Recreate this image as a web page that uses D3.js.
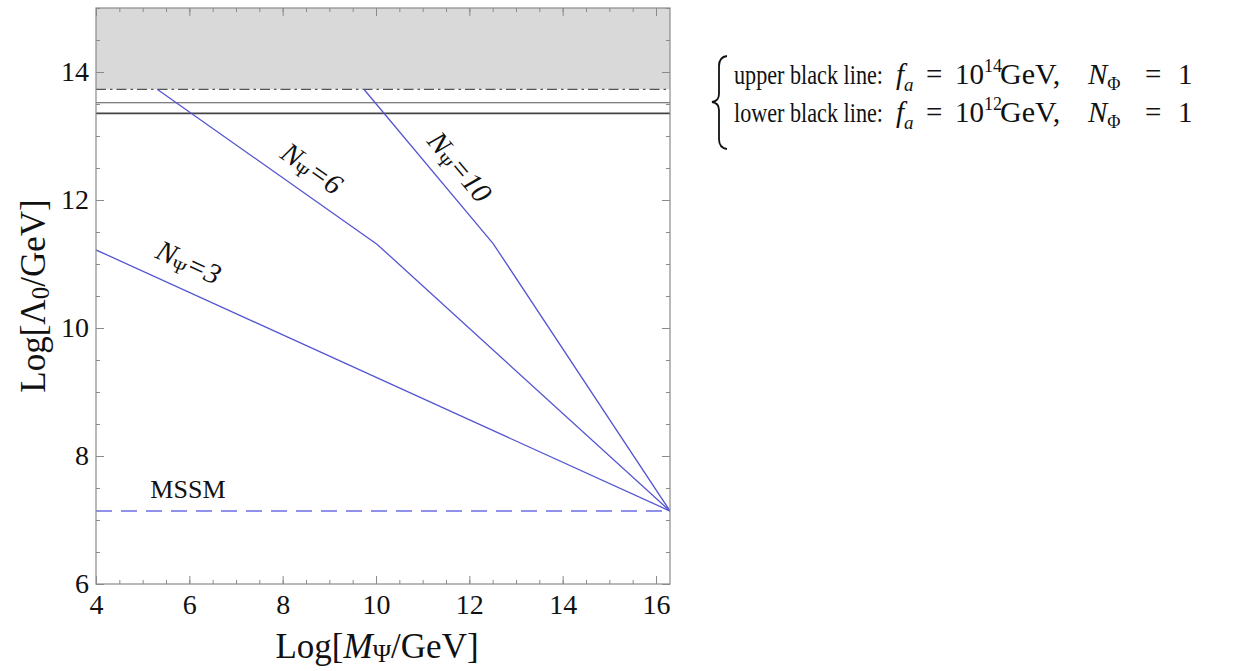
<!DOCTYPE html>
<html>
<head>
<meta charset="utf-8">
<script src="https://cdn.jsdelivr.net/npm/d3@7"></script>
<style>
  html, body { margin: 0; padding: 0; background: #fff; }
  svg { display: block; font-family: "Liberation Serif", "Times New Roman", serif; }
  svg text { font-family: "Liberation Serif", "Times New Roman", serif; }
</style>
</head>
<body>
<svg id="chart" width="1241" height="671"></svg>
<script>
// ---------- data ----------
const xDomain = [4, 16.3];
const yDomain = [6, 15];
const xMajorTicks = [4, 6, 8, 10, 12, 14, 16];
const yMajorTicks = [6, 8, 10, 12, 14];
const xMinorTicks = d3.range(4, 16.3, 0.5);
const yMinorTicks = d3.range(6, 15.01, 0.5);

const excludedBand = [13.73, 15];       // gray shaded region (lower, upper)
const upperBlackLine = 13.52;            // f_a = 1e14 GeV
const lowerBlackLine = 13.355;           // f_a = 1e12 GeV
const mssmLevel = 7.14;

const seriesN3  = [[4, 11.22], [16.3, 7.14]];
const seriesN6  = [[5.31, 13.73], [10.02, 11.31], [16.3, 7.14]];
const seriesN10 = [[9.74, 13.73], [12.51, 11.32], [16.3, 7.14]];

const seriesNames = ["3", "6", "10"];
const labelAnchors = [[5.99, 11.03], [8.63, 12.5], [11.8, 12.52]];  // data coords of label centres
const mssmLabelAnchor = [5.97, 7.34];

// ---------- layout ----------
const svg = d3.select("#chart");
const mLeft = 96, mTop = 8, plotW = 574, plotH = 576;
const x = d3.scaleLinear().domain(xDomain).range([mLeft, mLeft + plotW]);
const y = d3.scaleLinear().domain(yDomain).range([mTop + plotH, mTop]);

const blue = "#5555d2";
const frameColor = "#8a8a8a";
const serif = '"Liberation Serif", "Times New Roman", serif';

// clip
svg.append("clipPath").attr("id", "clip")
  .append("rect").attr("x", mLeft).attr("y", mTop).attr("width", plotW).attr("height", plotH);

const plot = svg.append("g").attr("clip-path", "url(#clip)");

// gray band
plot.append("rect")
  .attr("x", x(xDomain[0])).attr("width", x(xDomain[1]) - x(xDomain[0]))
  .attr("y", y(excludedBand[1])).attr("height", y(excludedBand[0]) - y(excludedBand[1]))
  .attr("fill", "#d9d9d9");

// dash-dot boundary
plot.append("line")
  .attr("x1", x(xDomain[0])).attr("x2", x(xDomain[1]))
  .attr("y1", y(excludedBand[0])).attr("y2", y(excludedBand[0]))
  .attr("stroke", "#555").attr("stroke-width", 1.3)
  .attr("stroke-dasharray", "10,4,2.5,4");

// black lines
plot.append("line")
  .attr("x1", x(xDomain[0])).attr("x2", x(xDomain[1]))
  .attr("y1", y(upperBlackLine)).attr("y2", y(upperBlackLine))
  .attr("stroke", "#555").attr("stroke-width", 1.1);
plot.append("line")
  .attr("x1", x(xDomain[0])).attr("x2", x(xDomain[1]))
  .attr("y1", y(lowerBlackLine)).attr("y2", y(lowerBlackLine))
  .attr("stroke", "#444").attr("stroke-width", 1.8);

// MSSM dashed
plot.append("line")
  .attr("x1", x(xDomain[0])).attr("x2", x(xDomain[1]))
  .attr("y1", y(mssmLevel)).attr("y2", y(mssmLevel))
  .attr("stroke", "#6e6ee6").attr("stroke-width", 1.4)
  .attr("stroke-dasharray", "16,9");

// series lines
const line = d3.line().x(d => x(d[0])).y(d => y(d[1]));
[seriesN3, seriesN6, seriesN10].forEach(s => {
  plot.append("path").datum(s).attr("d", line)
    .attr("fill", "none").attr("stroke", blue).attr("stroke-width", 1.3);
});

// series labels, rotated along first segment
[seriesN3, seriesN6, seriesN10].forEach((s, i) => {
  const dx = x(s[1][0]) - x(s[0][0]);
  const dy = y(s[1][1]) - y(s[0][1]);
  const ang = Math.atan2(dy, dx) * 180 / Math.PI;
  const cx = x(labelAnchors[i][0]), cy = y(labelAnchors[i][1]);
  const t = svg.append("text")
    .attr("transform", `translate(${cx},${cy}) rotate(${ang})`)
    .attr("text-anchor", "middle").attr("dy", "0.35em")
    .attr("font-size", 29).attr("font-style", "italic").attr("fill", "#111");
  t.append("tspan").text("N");
  t.append("tspan").attr("font-size", 19).attr("font-style", "normal").attr("dy", 5).text("Ψ");
  t.append("tspan").attr("dy", -5).text("=" + seriesNames[i]);
});

// MSSM label
svg.append("text")
  .attr("x", x(mssmLabelAnchor[0])).attr("y", y(mssmLabelAnchor[1]))
  .attr("text-anchor", "middle").attr("font-size", 26).attr("fill", "#111")
  .text("MSSM");

// ---------- axes ----------
function styleAxis(g) {
  g.attr("font-family", null).attr("font-size", null).style("font-family", serif).style("font-size", "28px");
  g.select(".domain").remove();
  g.selectAll(".tick line").attr("stroke", frameColor).attr("stroke-width", 1);
  g.selectAll(".tick text").attr("fill", "#111")
    .style("font-family", serif).style("font-size", "28px");
}
// bottom
svg.append("g").attr("transform", `translate(0,${mTop + plotH})`)
  .call(d3.axisBottom(x).tickValues(xMinorTicks).tickSize(-4).tickFormat(""))
  .call(styleAxis);
svg.append("g").attr("transform", `translate(0,${mTop + plotH})`)
  .call(d3.axisBottom(x).tickValues(xMajorTicks).tickSizeInner(-8).tickSizeOuter(0).tickPadding(10).tickFormat(d3.format("d")))
  .call(styleAxis);
// top
svg.append("g").attr("transform", `translate(0,${mTop})`)
  .call(d3.axisTop(x).tickValues(xMinorTicks).tickSize(-4).tickFormat(""))
  .call(styleAxis);
svg.append("g").attr("transform", `translate(0,${mTop})`)
  .call(d3.axisTop(x).tickValues(xMajorTicks).tickSize(-8).tickFormat(""))
  .call(styleAxis);
// left
svg.append("g").attr("transform", `translate(${mLeft},0)`)
  .call(d3.axisLeft(y).tickValues(yMinorTicks).tickSize(-4).tickFormat(""))
  .call(styleAxis);
svg.append("g").attr("transform", `translate(${mLeft},0)`)
  .call(d3.axisLeft(y).tickValues(yMajorTicks).tickSizeInner(-8).tickSizeOuter(0).tickPadding(7).tickFormat(d3.format("d")))
  .call(styleAxis);
// right
svg.append("g").attr("transform", `translate(${mLeft + plotW},0)`)
  .call(d3.axisRight(y).tickValues(yMinorTicks).tickSize(-4).tickFormat(""))
  .call(styleAxis);
svg.append("g").attr("transform", `translate(${mLeft + plotW},0)`)
  .call(d3.axisRight(y).tickValues(yMajorTicks).tickSize(-8).tickFormat(""))
  .call(styleAxis);

// frame
svg.append("rect").attr("x", mLeft).attr("y", mTop).attr("width", plotW).attr("height", plotH)
  .attr("fill", "none").attr("stroke", frameColor).attr("stroke-width", 1.2);

// axis titles
const xt = svg.append("text").attr("x", 377).attr("y", 658)
  .attr("text-anchor", "middle").attr("font-size", 35).attr("fill", "#111");
xt.append("tspan").text("Log[");
xt.append("tspan").attr("font-style", "italic").text("M");
xt.append("tspan").attr("font-size", 25).attr("dy", 4).text("Ψ");
xt.append("tspan").attr("dy", -4).text("/GeV]");

const yt = svg.append("text")
  .attr("transform", `translate(45,${mTop + plotH / 2}) rotate(-90)`)
  .attr("text-anchor", "middle").attr("font-size", 35).attr("fill", "#111");
yt.append("tspan").text("Log[Λ");
yt.append("tspan").attr("font-size", 25).attr("dy", 4).text("0");
yt.append("tspan").attr("dy", -4).text("/GeV]");

// ---------- legend note ----------
svg.append("path")
  .attr("d", "M727,56 Q719,57 719,66 L719,94 Q719,101 712,102 Q719,103 719,110 L719,139 Q719,148 727,149")
  .attr("fill", "none").attr("stroke", "#111").attr("stroke-width", 1.8);

const legendLines = [
  { label: "upper black line:", exp: "14", base: 84 },
  { label: "lower black line:", exp: "12", base: 122 }
];
legendLines.forEach(l => {
  const g = svg.append("g").attr("font-size", 29).attr("fill", "#111");
  g.append("text").attr("x", 734).attr("y", l.base).attr("font-size", 27)
    .attr("textLength", 149).attr("lengthAdjust", "spacingAndGlyphs").text(l.label);
  const t = g.append("text").attr("y", l.base);
  t.append("tspan").attr("x", 896).attr("font-style", "italic").text("f");
  t.append("tspan").attr("font-style", "italic").attr("font-size", 19).attr("dy", 7).text("a");
  t.append("tspan").attr("x", 926).attr("dy", -7).text("=");
  t.append("tspan").attr("x", 955).text("10");
  t.append("tspan").attr("font-size", 18).attr("dy", -12).text(l.exp);
  g.append("text").attr("x", 1000).attr("y", l.base).attr("font-size", 30).text("GeV,");
  const t2 = g.append("text").attr("y", l.base);
  t2.append("tspan").attr("x", 1088).attr("font-style", "italic").text("N");
  t2.append("tspan").attr("font-size", 18).attr("dy", 6).text("Φ");
  t2.append("tspan").attr("x", 1145).attr("dy", -6).text("=");
  t2.append("tspan").attr("x", 1178).text("1");
});
</script>
</body>
</html>
